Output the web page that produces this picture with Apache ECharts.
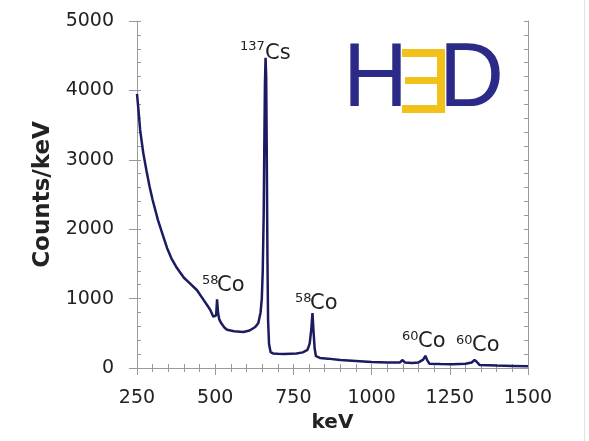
<!DOCTYPE html>
<html>
<head>
<meta charset="utf-8">
<script src="https://cdn.jsdelivr.net/npm/echarts@6/dist/echarts.min.js"></script>
<style>
  html, body { margin: 0; background: #fff; }
  #main { width: 589px; height: 441px; }
</style>
</head>
<body>
<div id="main"></div>
<script>
// energy (keV) and counts/keV
var energy = [250, 255, 260, 270, 280, 290, 300, 317, 330, 346, 360, 375, 388, 400, 420, 442, 460, 475, 484, 494, 500, 503, 506, 509, 513, 520, 530, 538, 560, 590, 610, 628, 638, 645, 649, 652, 655, 657, 659, 661, 663, 665, 667, 669, 672, 677, 685, 700, 720, 740, 760, 780, 795, 802, 807, 811, 814, 818, 822, 835, 860, 900, 950, 1000, 1050, 1090, 1099, 1106, 1130, 1150, 1165, 1172, 1178, 1185, 1220, 1260, 1300, 1320, 1329, 1336, 1345, 1400, 1450, 1500];
var counts = [3950, 3700, 3430, 3100, 2850, 2620, 2420, 2130, 1950, 1730, 1580, 1460, 1375, 1300, 1215, 1120, 1000, 900, 840, 740, 720, 760, 990, 800, 700, 640, 580, 550, 530, 520, 540, 590, 650, 800, 1000, 1400, 2200, 3200, 4100, 4470, 4200, 3000, 1600, 700, 350, 230, 210, 205, 200, 205, 210, 225, 260, 350, 550, 790, 550, 280, 170, 145, 135, 115, 100, 85, 80, 78, 115, 80, 72, 80, 120, 175, 110, 62, 58, 55, 62, 80, 115, 90, 45, 35, 30, 25];

var xTicks = [250, 500, 750, 1000, 1250, 1500];
var yTicks = [0, 1000, 2000, 3000, 4000, 5000];

var points = energy.map(function (e, i) { return [e, counts[i]]; });

var chart = echarts.init(document.getElementById('main'));
var axisCol = '#9a9a9a';
var txtCol = '#222';
var plain = function (v) { return String(v); };

var option = {
  animation: false,
  grid: { left: 137, right: 61, top: 21, bottom: 73 },
  xAxis: [
    {
      type: 'value', position: 'bottom',
      min: xTicks[0], max: xTicks[xTicks.length - 1], interval: 250,
      axisLine: { lineStyle: { color: axisCol } },
      axisTick: { length: 7, lineStyle: { color: axisCol } },
      axisLabel: { margin: 21, fontFamily: 'DejaVu Sans', fontSize: 19, color: txtCol, formatter: plain },
      splitLine: { show: false },
      name: 'keV', nameLocation: 'middle', nameGap: 45,
      nameTextStyle: { fontFamily: 'DejaVu Sans', fontWeight: 'bold', fontSize: 20, color: txtCol }
    },
    {
      type: 'value', position: 'bottom',
      min: 250, max: 1500, interval: 50,
      axisLine: { show: false },
      axisTick: { inside: true, length: 4, lineStyle: { color: axisCol } },
      axisLabel: { show: false }, splitLine: { show: false }
    },
    {
      type: 'value', position: 'top',
      min: 250, max: 1500, interval: 50,
      axisLine: { lineStyle: { color: axisCol } },
      axisTick: { inside: true, length: 4, lineStyle: { color: axisCol } },
      axisLabel: { show: false }, splitLine: { show: false }
    }
  ],
  yAxis: [
    {
      type: 'value', position: 'left',
      min: yTicks[0], max: yTicks[yTicks.length - 1], interval: 1000,
      axisLine: { show: true, lineStyle: { color: axisCol } },
      axisTick: { show: true, length: 8, lineStyle: { color: axisCol } },
      axisLabel: { margin: 23, fontFamily: 'DejaVu Sans', fontSize: 19, color: txtCol, formatter: plain },
      splitLine: { show: false },
      name: 'Counts/keV', nameLocation: 'middle', nameGap: 74, nameRotate: 90,
      nameTextStyle: { fontFamily: 'DejaVu Sans', fontWeight: 'bold', fontSize: 23, color: txtCol }
    },
    {
      type: 'value', position: 'left',
      min: 0, max: 5000, interval: 200,
      axisLine: { show: false },
      axisTick: { show: true, inside: true, length: 4, lineStyle: { color: axisCol } },
      axisLabel: { show: false }, splitLine: { show: false }
    },
    {
      type: 'value', position: 'right',
      min: 0, max: 5000, interval: 200,
      axisLine: { show: true, lineStyle: { color: axisCol } },
      axisTick: { show: true, inside: true, length: 4, lineStyle: { color: axisCol } },
      axisLabel: { show: false }, splitLine: { show: false }
    }
  ],
  series: [{
    type: 'line',
    xAxisIndex: 0, yAxisIndex: 0,
    data: points,
    showSymbol: false,
    lineStyle: { color: '#1b1b62', width: 2.5 }
  }],
  graphic: []
};

// peak labels: superscript mass number + element
function peak(supX, supY, sup, elX, elY, el) {
  option.graphic.push({
    type: 'text', left: supX, top: supY - 8,
    style: { text: sup, font: '13px "DejaVu Sans"', fill: txtCol }
  });
  option.graphic.push({
    type: 'text', left: elX, top: elY - 12,
    style: { text: el, font: '21px "DejaVu Sans"', fill: txtCol }
  });
}
peak(240, 48, '137', 265, 55, 'Cs');
peak(202, 282, '58', 217, 287, 'Co');
peak(295, 300, '58', 310, 305, 'Co');
peak(402, 338, '60', 418, 343, 'Co');
peak(456, 342, '60', 472, 347, 'Co');

// logo
var blue = '#2b2a88', yellow = '#f2c21b';
option.graphic.push(
  { type: 'text', left: 343, top: 36, style: { text: 'H', font: '90px "Liberation Sans"', fill: blue } },
  { type: 'rect', shape: { x: 402, y: 49, width: 43, height: 8 }, style: { fill: yellow } },
  { type: 'rect', shape: { x: 405, y: 77, width: 36, height: 7 }, style: { fill: yellow } },
  { type: 'rect', shape: { x: 402, y: 105, width: 43, height: 8 }, style: { fill: yellow } },
  { type: 'rect', shape: { x: 437, y: 49, width: 8, height: 64 }, style: { fill: yellow } },
  { type: 'text', left: 439, top: 36, style: { text: 'D', font: '90px "Liberation Sans"', fill: blue } },
  { type: 'line', shape: { x1: 584.5, y1: 0, x2: 584.5, y2: 441 }, style: { stroke: '#e2e2e2', lineWidth: 1 } }
);

chart.setOption(option);
</script>
</body>
</html>
